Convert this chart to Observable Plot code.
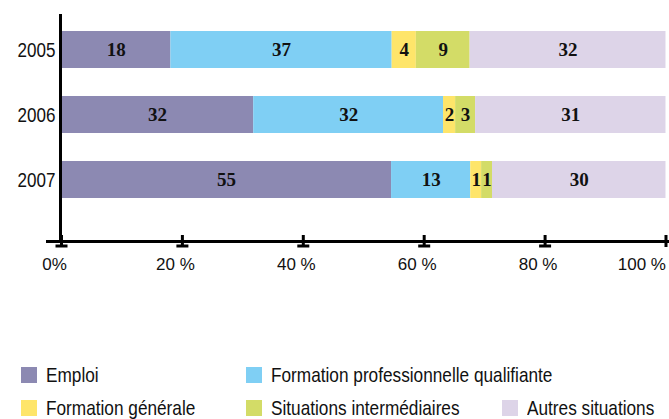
<!DOCTYPE html>
<html>
<head>
<meta charset="utf-8">
<script src="https://cdn.jsdelivr.net/npm/d3@7"></script>
<script src="https://cdn.jsdelivr.net/npm/@observablehq/plot@0.6"></script>
<style>
  body { margin: 0; background: #fff; }
  #wrap { width: 669px; }
  #legend {
    position: relative; width: 669px; height: 119px;
    font-family: "Liberation Sans", Arial, sans-serif;
    font-size: 21px; color: #111;
  }
  .item { position: absolute; display: flex; align-items: center; white-space: nowrap; line-height: 16px; }
  .sw { width: 16px; height: 16px; margin-right: 9px; flex: none; }
  .lt { display: inline-block; transform: scaleX(0.82); transform-origin: 0 50%; }
</style>
</head>
<body>
<div id="wrap">
  <div id="chart"></div>
  <div id="legend"></div>
</div>
<script>
// ---- data ----
const years = ["2005", "2006", "2007"];
const categories = ["Emploi", "Formation professionnelle qualifiante", "Formation générale", "Situations intermédiaires", "Autres situations"];
const colors = ["#8c89b2", "#7fcff4", "#fee56a", "#d3dc67", "#ddd4e8"];
// bar lengths (%)
const emploi   = [18.1, 31.8, 54.6];
const formPro  = [36.6, 31.4, 13.1];
const formGen  = [4.0, 2.0, 1.8];
const sitInt   = [8.9, 3.3, 1.8];
const autres   = [32.4, 31.5, 28.7];
// printed labels
const emploiLbl  = [18, 32, 55];
const formProLbl = [37, 32, 13];
const formGenLbl = [4, 2, 1];
const sitIntLbl  = [9, 3, 1];
const autresLbl  = [32, 31, 30];
const xTicks = [0, 20, 40, 60, 80, 100];

const series = [emploi, formPro, formGen, sitInt, autres];
const labels = [emploiLbl, formProLbl, formGenLbl, sitIntLbl, autresLbl];
const data = years.flatMap((y, i) => categories.map((c, j) => ({year: y, cat: c, value: series[j][i], label: labels[j][i]})));

const fmt = d => d === 0 ? "0%" : d + " %";
const footSym = { draw(ctx) { ctx.rect(-6, -1.5, 12, 3); } };
const sans = "Liberation Sans, Arial, sans-serif";

const chart = Plot.plot({
  width: 669, height: 300,
  marginLeft: 47, marginRight: 2, marginTop: 14, marginBottom: 59,
  x: {domain: [-2.316, 100.25], axis: null},
  y: {domain: years, range: [30, 200], paddingInner: 0.424, paddingOuter: 0, label: null},
  color: {domain: categories, range: colors},
  style: {background: "white", overflow: "visible"},
  marks: [
    Plot.barX(data, Plot.stackX({x: "value", y: "year", z: "cat", order: categories, fill: "cat"})),
    Plot.text(data, Plot.stackX({x: "value", y: "year", z: "cat", order: categories, text: "label",
      fontFamily: "Liberation Serif, serif", fontWeight: "bold", fontSize: 19, fill: "#111"})),
    Plot.ruleX([0], {dx: -1, strokeWidth: 3, stroke: "#000"}),
    Plot.frame({anchor: "bottom", strokeWidth: 3, stroke: "#000"}),
    Plot.ruleX(xTicks, {x: d => d, insetTop: 215, dy: 6, strokeWidth: 3, stroke: "#000"}),
    Plot.dot(xTicks.slice(0, 5), {x: d => d, frameAnchor: "bottom", dy: 4.5, symbol: footSym, fill: "#000", stroke: null}),
    Plot.text(xTicks.slice(0, 5), {x: d => d, text: fmt, frameAnchor: "bottom", dy: 28, dx: -7,
      fontSize: 17, fontFamily: sans, fill: "#111"}),
    Plot.text(xTicks.slice(5), {x: d => d, text: fmt, frameAnchor: "bottom", dy: 28, textAnchor: "end",
      fontSize: 17, fontFamily: sans, fill: "#111"}),
    Plot.axisY({tickSize: 0, tickPadding: 0, dx: 8, fontSize: 20.5, fontFamily: sans, fill: "#111", label: null})
  ]
});
document.getElementById("chart").appendChild(chart);

// condense the year labels (the reference uses a narrow face)
chart.querySelectorAll('g[aria-label="y-axis tick label"] text').forEach(t => {
  const w = t.getComputedTextLength();
  t.setAttribute("textLength", (w * 0.83).toFixed(1));
  t.setAttribute("lengthAdjust", "spacingAndGlyphs");
});

// ---- legend (HTML, below the SVG) ----
const legendLayout = [
  {cat: 0, left: 21, top: 67}, {cat: 1, left: 246, top: 67},
  {cat: 2, left: 21, top: 100}, {cat: 3, left: 246, top: 100}, {cat: 4, left: 502, top: 100}
];
const legend = document.getElementById("legend");
for (const l of legendLayout) {
  const it = document.createElement("div");
  it.className = "item";
  it.style.left = l.left + "px";
  it.style.top = l.top + "px";
  const sw = document.createElement("span");
  sw.className = "sw";
  sw.style.background = colors[l.cat];
  const tx = document.createElement("span");
  tx.className = "lt";
  tx.textContent = categories[l.cat];
  it.appendChild(sw); it.appendChild(tx);
  legend.appendChild(it);
}
</script>
</body>
</html>
